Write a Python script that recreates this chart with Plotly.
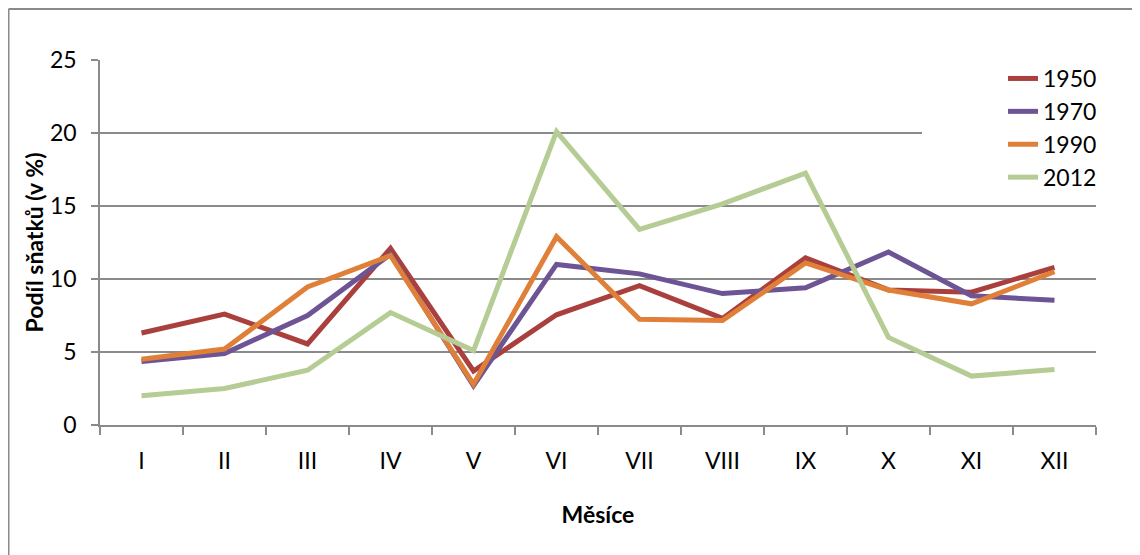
import plotly.graph_objects as go

months = ["I", "II", "III", "IV", "V", "VI", "VII", "VIII", "IX", "X", "XI", "XII"]
y1950 = [6.3, 7.6, 5.55, 12.1, 3.7, 7.55, 9.55, 7.3, 11.45, 9.25, 9.1, 10.8]
y1970 = [4.35, 4.9, 7.5, 11.7, 2.7, 11.0, 10.35, 9.0, 9.4, 11.85, 8.85, 8.55]
y1990 = [4.5, 5.2, 9.45, 11.6, 2.8, 12.9, 7.25, 7.15, 11.1, 9.25, 8.3, 10.5]
y2012 = [2.0, 2.5, 3.75, 7.7, 5.1, 20.1, 13.4, 15.15, 17.25, 6.0, 3.35, 3.8]

series = [
    ("1950", y1950, "#a9403d"),
    ("1970", y1970, "#6d5495"),
    ("1990", y1990, "#e08038"),
    ("2012", y2012, "#b5cc95"),
]

FONT = "Lato, 'Open Sans', sans-serif"
GRID = "#8a8a8a"

# plot area in page pixels (page has an 8px body margin)
L, R, T, B = 92, 52, 52, 138
PW = 1140 - L - R
PH = 555 - T - B

fig = go.Figure()
for name, vals, color in series:
    fig.add_trace(go.Scatter(
        x=months, y=vals, name=name, mode="lines",
        line=dict(color=color, width=5),
    ))

fig.update_layout(
    width=1140, height=555,
    margin=dict(l=L, r=R, t=T, b=B),
    paper_bgcolor="white", plot_bgcolor="white",
    font=dict(family=FONT, size=23, color="black"),
    showlegend=True,
    legend=dict(
        x=1.0 + 6 / PW, y=1.0 + 3 / PH, xanchor="right", yanchor="top",
        bgcolor="rgba(0,0,0,0)", borderwidth=0,
        font=dict(size=23), tracegroupgap=0,
    ),
    xaxis=dict(
        range=[-0.5, 11.5],
        showline=True, linecolor=GRID, linewidth=1.5,
        ticks="outside", tickson="boundaries", ticklen=8,
        tickcolor=GRID, tickwidth=1.5,
        ticklabelstandoff=15,
        showgrid=False,
        title=dict(text="<b>Měsíce</b>", font=dict(size=23), standoff=34),
    ),
    yaxis=dict(
        range=[0, 25], dtick=5,
        showline=True, linecolor=GRID, linewidth=1.5,
        ticks="outside", ticklen=7, tickcolor=GRID, tickwidth=1.5,
        ticklabelstandoff=10,
        showgrid=True, gridcolor=GRID, gridwidth=1.5,
        zeroline=False,
        title=dict(text="<b>Podíl sňatků (v %)</b>", font=dict(size=23), standoff=0),
    ),
)

# white legend box hiding the gridline behind the legend
fig.add_shape(type="rect", xref="paper", yref="y", layer="above",
              x0=(922 - 100) / PW, x1=1.0, y0=16.0, y1=24.3,
              line=dict(width=0), fillcolor="white")

# outer chart frame (only top and left edges visible)
top = (PH + T - 1) / PH
left = -(L - 0.5) / PW
fig.add_shape(type="line", xref="paper", yref="paper",
              x0=left, x1=1.2, y0=top, y1=top, line=dict(color=GRID, width=2))
fig.add_shape(type="line", xref="paper", yref="paper",
              x0=left, x1=left, y0=top, y1=-0.5, line=dict(color=GRID, width=2))

fig.write_html("out.html")
